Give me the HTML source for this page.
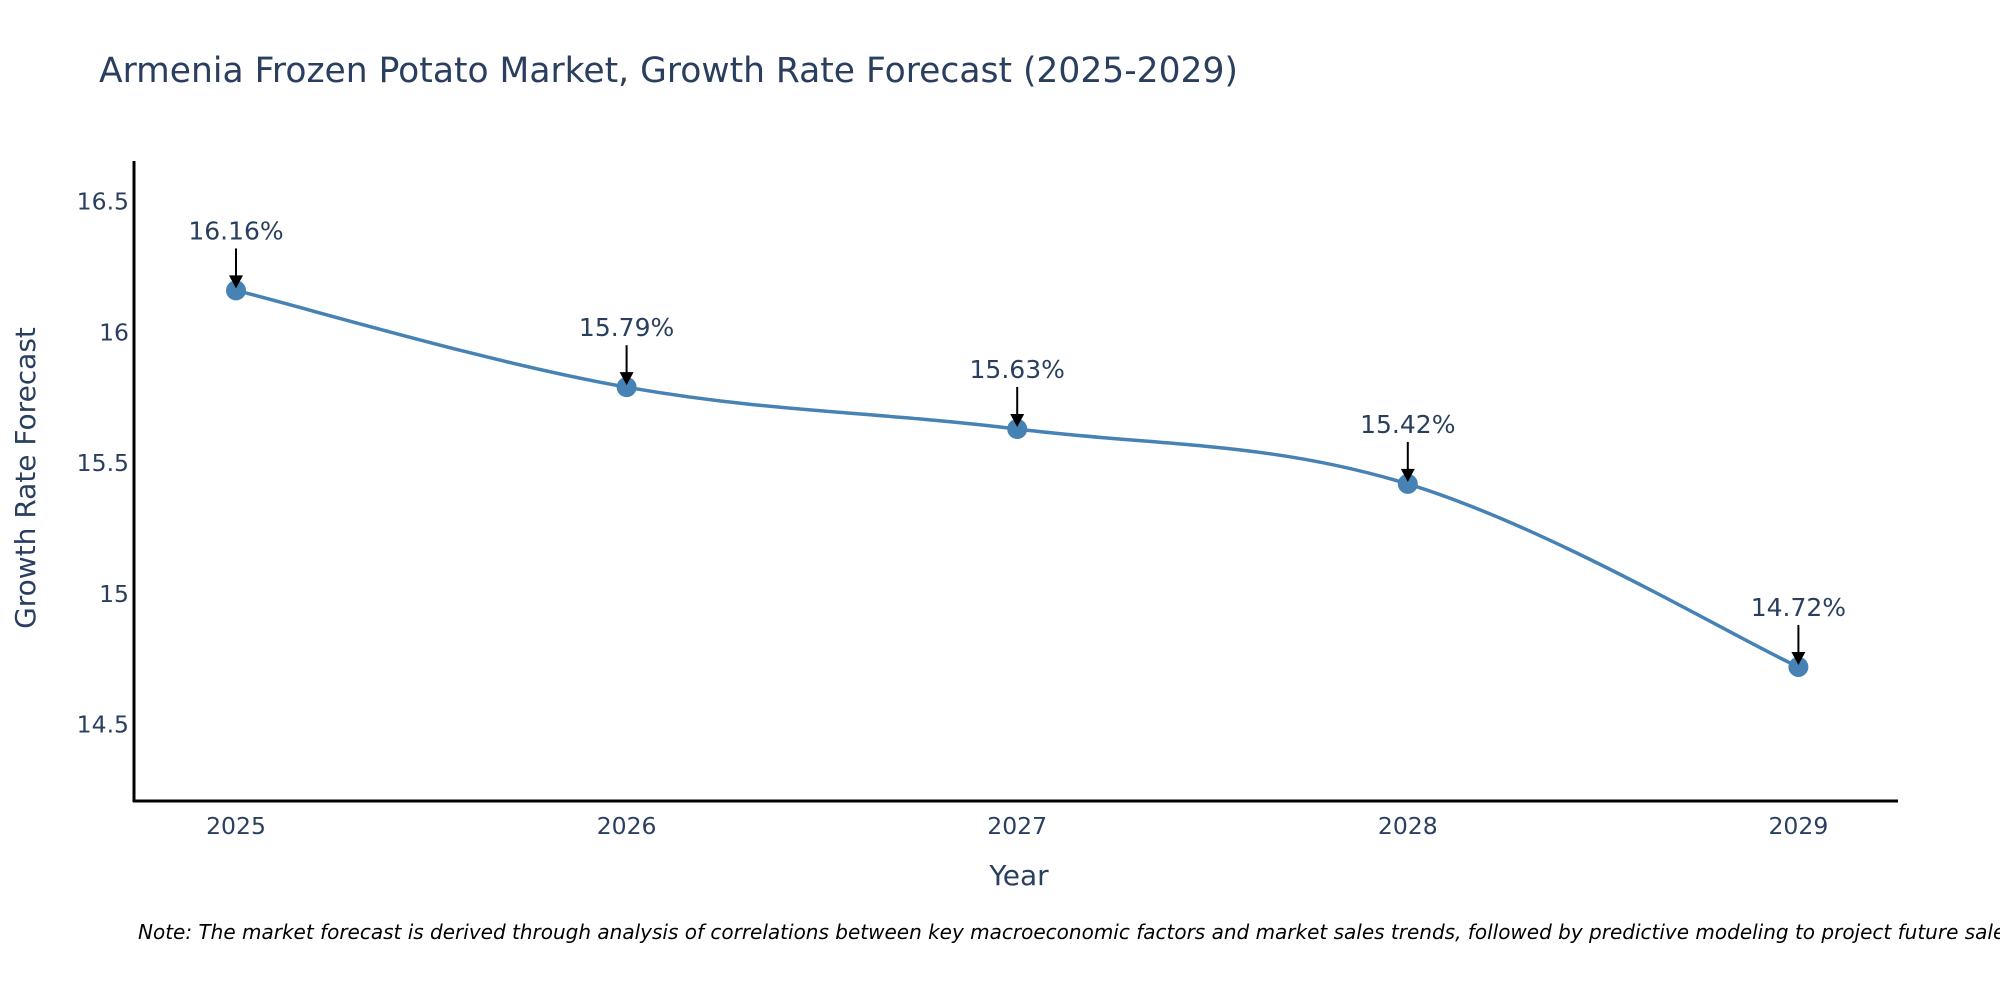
<!DOCTYPE html>
<html><head><meta charset="utf-8">
<style>
html,body{margin:0;padding:0;background:#fff;}
svg text{font-family:"DejaVu Sans","Liberation Sans",sans-serif;}
</style></head>
<body>
<svg id="chart" width="2000" height="1000" viewBox="0 0 2000 1000" xmlns="http://www.w3.org/2000/svg">
<rect width="2000" height="1000" fill="#fff"/>
<text x="99" y="82" font-size="34.5" fill="#2a3f5f">Armenia Frozen Potato Market, Growth Rate Forecast (2025-2029)</text>
<line x1="134" y1="161" x2="134" y2="802" stroke="#000" stroke-width="3"/>
<line x1="133" y1="801" x2="1898" y2="801" stroke="#000" stroke-width="3"/>
<g id="yticks"></g>
<g id="xticks"></g>
<text x="0" y="0" transform="translate(35,478) rotate(-90)" text-anchor="middle" font-size="28" fill="#2a3f5f">Growth Rate Forecast</text>
<text x="1019" y="885" text-anchor="middle" font-size="28" fill="#2a3f5f">Year</text>
<path id="line" fill="none" stroke="#4682B4" stroke-width="3.5"/>
<g id="points"></g>
<g id="annots"></g>
<text x="138" y="939" font-size="20" font-style="italic" fill="#000">Note: The market forecast is derived through analysis of correlations between key macroeconomic factors and market sales trends, followed by predictive modeling to project future sales.</text>
</svg>
<script>
const years = [2025, 2026, 2027, 2028, 2029];
const growthValues = [16.16, 15.79, 15.63, 15.42, 14.72];
const valueLabels = ["16.16%", "15.79%", "15.63%", "15.42%", "14.72%"];
const yTickValues = [14.5, 15, 15.5, 16, 16.5];
const yTickLabels = ["14.5", "15", "15.5", "16", "16.5"];

const NS = "http://www.w3.org/2000/svg";
function xScale(v){ return 236 + (v - 2025) * 390.6; }
function yScale(v){ return 201.5 + (16.5 - v) * 261.5; }
function mk(tag, attrs, parent){ const e = document.createElementNS(NS, tag); for (const k in attrs) e.setAttribute(k, attrs[k]); parent.appendChild(e); return e; }

const yt = document.getElementById('yticks');
yTickValues.forEach((v, i) => {
  const t = mk('text', {x: 129, y: yScale(v) + 8, 'text-anchor': 'end', 'font-size': 23.5, fill: '#2a3f5f'}, yt);
  t.textContent = yTickLabels[i];
  
  
});
const xt = document.getElementById('xticks');
years.forEach(y => {
  const t = mk('text', {x: xScale(y), y: 834, 'text-anchor': 'middle', 'font-size': 23.5, fill: '#2a3f5f'}, xt);
  t.textContent = String(y);
  
  
});

const pts = years.map((y, i) => [xScale(y), yScale(growthValues[i])]);
let d = 'M' + pts[0][0] + ',' + pts[0][1];
const s = 0.18;
for (let i = 0; i < pts.length - 1; i++) {
  const p0 = pts[Math.max(i - 1, 0)], p1 = pts[i], p2 = pts[i + 1], p3 = pts[Math.min(i + 2, pts.length - 1)];
  const c1x = p1[0] + (p2[0] - p0[0]) * s, c1y = p1[1] + (p2[1] - p0[1]) * s;
  const c2x = p2[0] - (p3[0] - p1[0]) * s, c2y = p2[1] - (p3[1] - p1[1]) * s;
  d += ' C' + c1x + ',' + c1y + ' ' + c2x + ',' + c2y + ' ' + p2[0] + ',' + p2[1];
}
document.getElementById('line').setAttribute('d', d);

const pg = document.getElementById('points');
const ag = document.getElementById('annots');
pts.forEach((p, i) => {
  const c = mk('circle', {cx: p[0], cy: p[1], r: 10, fill: '#4682B4'}, pg);
  
  
  const l = mk('line', {x1: p[0], y1: p[1] - 42, x2: p[0], y2: p[1] - 12, stroke: '#000', 'stroke-width': 2}, ag);
  
  
  const h = mk('path', {d: 'M' + (p[0] - 7) + ',' + (p[1] - 15) + ' L' + (p[0] + 7) + ',' + (p[1] - 15) + ' L' + p[0] + ',' + (p[1] - 2) + ' Z', fill: '#000'}, ag);
  
  
  const t = mk('text', {x: p[0], y: p[1] - 51, 'text-anchor': 'middle', 'font-size': 25, fill: '#2a3f5f'}, ag);
  t.textContent = valueLabels[i];
  
  
});
</script>
</body></html>
